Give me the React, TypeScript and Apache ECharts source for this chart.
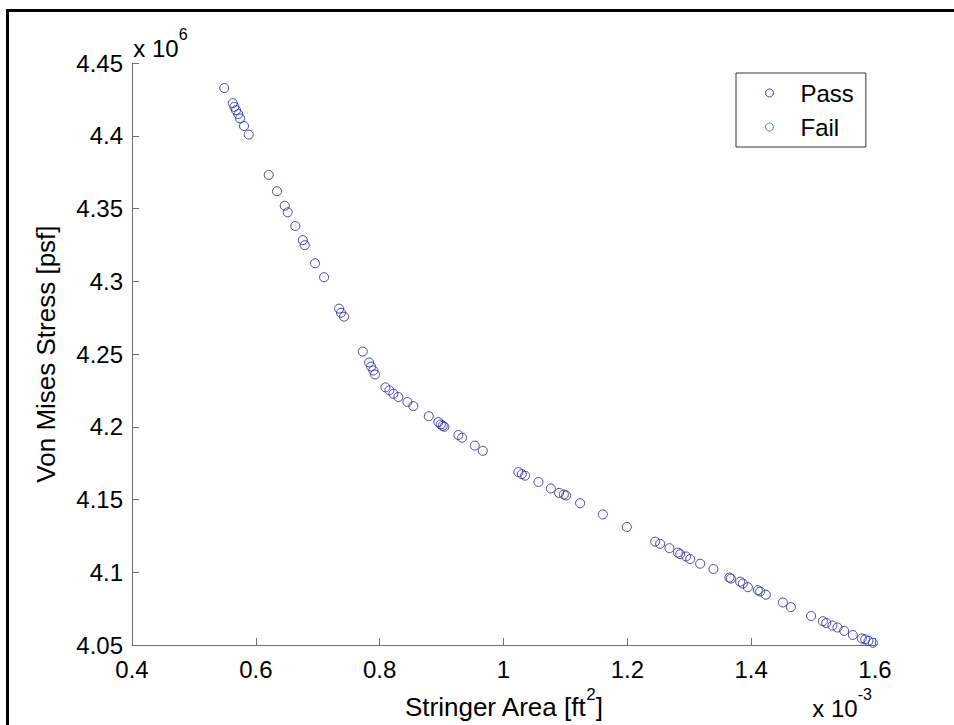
import React, { useEffect, useRef } from "react";
import * as echarts from "echarts";

// Stringer area, in units of 1e-3 ft^2 (axis shows "x 10^-3")
const stringerArea = [
  0.549, 0.5627, 0.5653, 0.568, 0.5717, 0.5745, 0.5809, 0.5885,
  0.6208, 0.6342, 0.6467, 0.6515, 0.6638, 0.6758, 0.679, 0.6956, 0.7102,
  0.7344, 0.7376, 0.7425,
  0.7727, 0.7829, 0.7861, 0.7898, 0.7926, 0.8092, 0.8157, 0.8221, 0.8302,
  0.8448, 0.8544, 0.8793, 0.8948, 0.8987, 0.9019, 0.9045, 0.9271, 0.9331,
  0.9536, 0.9666, 1.0241, 1.0296, 1.0349, 1.0564, 1.0764, 1.0898, 1.0975,
  1.1011, 1.1237, 1.1604, 1.1992, 1.2449, 1.253, 1.268, 1.2816, 1.2853,
  1.295, 1.3015, 1.3176, 1.3391, 1.3649, 1.3672, 1.3822, 1.3866, 1.3947,
  1.4108, 1.4145, 1.4237, 1.4512, 1.4641, 1.4969, 1.5158, 1.5212, 1.5313,
  1.5394, 1.5502, 1.5642, 1.5787, 1.5841, 1.5895, 1.5965,
];

// Von Mises stress, in units of 1e6 psf (axis shows "x 10^6")
const vonMisesStress = [
  4.4328, 4.4224, 4.4199, 4.4176, 4.4149, 4.4119, 4.4067, 4.4008,
  4.3731, 4.3619, 4.3519, 4.3474, 4.338, 4.3283, 4.3248, 4.3124, 4.3028,
  4.2812, 4.2784, 4.2757,
  4.2517, 4.2442, 4.2414, 4.2387, 4.236, 4.2271, 4.2251, 4.2227, 4.2205,
  4.2171, 4.2142, 4.2073, 4.2032, 4.2016, 4.2007, 4.2, 4.1944, 4.1925,
  4.1871, 4.1835, 4.1689, 4.1675, 4.1664, 4.1621, 4.1576, 4.1546, 4.1535,
  4.1528, 4.1475, 4.1398, 4.1312, 4.1211, 4.1196, 4.1166, 4.1136, 4.1125,
  4.1109, 4.1091, 4.1059, 4.1023, 4.0964, 4.0957, 4.0936, 4.0923, 4.0898,
  4.0877, 4.0868, 4.0846, 4.0793, 4.0761, 4.07, 4.0664, 4.0652, 4.0634,
  4.0621, 4.0598, 4.057, 4.0546, 4.0539, 4.0529, 4.0516,
];

// Failing designs: none in this plot
const failArea: number[] = [];
const failStress: number[] = [];

const seriesNames = ["Pass", "Fail"];
const xAxisTitle = "Stringer Area [ft";
const yAxisTitle = "Von Mises Stress [psf]";
const xExponent = "-3";
const yExponent = "6";

const FONT = "'Liberation Sans', Arial, Helvetica, sans-serif";
const AXIS_COLOR = "#6e6e6e";

export default function App() {
  const ref = useRef<HTMLDivElement>(null);

  useEffect(() => {
    if (!ref.current) return;
    const chart = echarts.init(ref.current, null, { renderer: "svg" });

    const passData = stringerArea.map((x, i) => [x, vonMisesStress[i]]);
    const failData = failArea.map((x, i) => [x, failStress[i]]);

    const supRich = {
      g: { fontSize: 1, lineHeight: 34 },
      n: { fontSize: 24, lineHeight: 24, verticalAlign: "bottom", fontFamily: FONT, color: "#000" },
      s: { fontSize: 16, lineHeight: 16, verticalAlign: "top", fontFamily: FONT, color: "#000" },
    };
    const nameRich = {
      g: { fontSize: 1, lineHeight: 34 },
      n: { fontSize: 26, lineHeight: 26, verticalAlign: "bottom", fontFamily: FONT, color: "#000" },
      s: { fontSize: 17, lineHeight: 17, verticalAlign: "top", fontFamily: FONT, color: "#000" },
    };

    const option: any = {
      animation: false,
      backgroundColor: "#fff",
      textStyle: { fontFamily: FONT },
      grid: { left: 132, right: 79, top: 63, bottom: 75, containLabel: false },
      xAxis: {
        type: "value",
        min: 0.4,
        max: 1.6,
        interval: 0.2,
        name: `{g| }{n|${xAxisTitle}}{s|2}{n|]}`,
        nameLocation: "middle",
        nameGap: 32,
        nameTextStyle: { rich: nameRich, fontFamily: FONT, color: "#000" },
        axisLine: { show: true, lineStyle: { color: AXIS_COLOR, width: 1 } },
        axisTick: { show: true, inside: true, length: 7, lineStyle: { color: AXIS_COLOR } },
        axisLabel: {
          fontSize: 24,
          fontFamily: FONT,
          color: "#000",
          margin: 12,
          formatter: (v: number) => String(parseFloat(v.toFixed(1))),
        },
        splitLine: { show: false },
      },
      yAxis: {
        type: "value",
        min: 4.05,
        max: 4.45,
        interval: 0.05,
        name: yAxisTitle,
        nameLocation: "middle",
        nameRotate: 90,
        nameGap: 73,
        nameTextStyle: { fontSize: 26, fontFamily: FONT, color: "#000" },
        axisLine: { show: true, lineStyle: { color: AXIS_COLOR, width: 1 } },
        axisTick: { show: true, inside: true, length: 7, lineStyle: { color: AXIS_COLOR } },
        axisLabel: {
          fontSize: 24,
          fontFamily: FONT,
          color: "#000",
          margin: 9,
          formatter: (v: number) => String(parseFloat(v.toFixed(2))),
        },
        splitLine: { show: false },
      },
      legend: {
        orient: "vertical",
        left: 736,
        top: 73,
        padding: [8, 12, 8, 29],
        itemGap: 10,
        itemWidth: 8,
        itemHeight: 8,
        icon: "circle",
        borderColor: "#333",
        borderWidth: 1,
        backgroundColor: "#fff",
        itemStyle: { borderWidth: 1 },
        textStyle: { fontSize: 24, fontFamily: FONT, color: "#000", padding: [0, 0, 0, 22] },
        data: seriesNames,
      },
      series: [
        {
          name: seriesNames[0],
          type: "scatter",
          symbol: "circle",
          symbolSize: 9,
          data: passData,
          itemStyle: { color: "rgba(0,0,0,0)", borderColor: "#1c1c9c", borderWidth: 1 },
          emphasis: { disabled: true },
        },
        {
          name: seriesNames[1],
          type: "scatter",
          symbol: "circle",
          symbolSize: 9,
          data: failData,
          itemStyle: { color: "rgba(0,0,0,0)", borderColor: "#2e8b2e", borderWidth: 1 },
          emphasis: { disabled: true },
        },
      ],
      graphic: [
        {
          type: "rect",
          silent: true,
          z: 100,
          shape: { x: 7.5, y: 10.5, width: 1000, height: 1000 },
          style: { fill: "none", stroke: "#000", lineWidth: 3 },
        },
        {
          type: "text",
          silent: true,
          x: 133,
          y: 26.7,
          style: {
            text: `{g| }{n|x 10}{s|${yExponent}}`,
            rich: supRich,
            fontFamily: FONT,
            fill: "#000",
          },
        },
        {
          type: "text",
          silent: true,
          x: 812,
          y: 686,
          style: {
            text: `{g| }{n|x 10}{s|${xExponent}}`,
            rich: supRich,
            fontFamily: FONT,
            fill: "#000",
          },
        },
      ],
    };

    chart.setOption(option);
    return () => chart.dispose();
  }, []);

  return (
    <div
      ref={ref}
      style={{ position: "absolute", left: 0, top: 0, width: 954, height: 725, background: "#fff" }}
    />
  );
}
